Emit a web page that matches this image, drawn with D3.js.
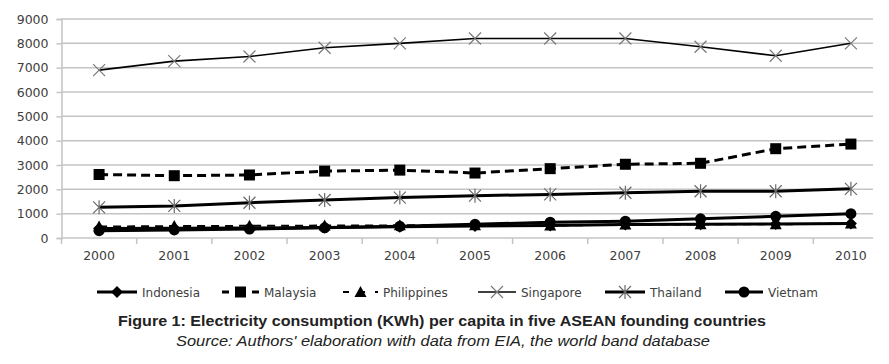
<!DOCTYPE html>
<html>
<head>
<meta charset="utf-8">
<script src="https://cdn.jsdelivr.net/npm/d3@7"></script>
<style>
  html, body { margin: 0; padding: 0; background: #fff; }
  svg { display: block; }
</style>
</head>
<body>
<svg id="chart" width="889" height="364"></svg>
<script>
const years = ["2000","2001","2002","2003","2004","2005","2006","2007","2008","2009","2010"];
const yTicks = [0,1000,2000,3000,4000,5000,6000,7000,8000,9000];
const indonesia   = [390, 400, 410, 430, 460, 490, 510, 550, 570, 580, 600];
const malaysia    = [2610, 2560, 2590, 2750, 2790, 2670, 2850, 3030, 3070, 3670, 3860];
const philippines = [470, 490, 500, 510, 520, 520, 510, 550, 560, 560, 600];
const singapore   = [6900, 7270, 7460, 7820, 8000, 8200, 8200, 8200, 7860, 7490, 8000];
const thailand    = [1260, 1320, 1450, 1560, 1660, 1740, 1790, 1860, 1920, 1920, 2020];
const vietnam     = [300, 330, 370, 420, 480, 560, 650, 690, 790, 890, 1000];
const seriesNames = ["Indonesia","Malaysia","Philippines","Singapore","Thailand","Vietnam"];
const title = "Figure 1: Electricity consumption (KWh) per capita in five ASEAN founding countries";
const source = "Source: Authors' elaboration with data from EIA, the world band database";

const seriesData = [indonesia, malaysia, philippines, singapore, thailand, vietnam];
const styles = [
  {w: 3,   dash: null,  marker: "diamond"},
  {w: 3,   dash: "9,5", marker: "square"},
  {w: 2,   dash: "8,6", marker: "triangle"},
  {w: 1.6, dash: null,  marker: "x"},
  {w: 3,   dash: null,  marker: "star"},
  {w: 3,   dash: null,  marker: "circle"}
];

const svg = d3.select("#chart");
const left = 61.5, right = 888.5, gridRight = 873;
const x = d3.scaleBand().domain(years).range([left, right]).padding(0);
const cx = d => x(d) + x.bandwidth() / 2;
const y = d3.scaleLinear().domain([0, 9000]).range([238, 19]);

// gridlines
svg.append("g").selectAll("line").data(yTicks).join("line")
  .attr("x1", left).attr("x2", gridRight)
  .attr("y1", d => y(d)).attr("y2", d => y(d))
  .attr("stroke", "#c4c4c4").attr("stroke-width", 1.5);

// y axis
const yAxis = svg.append("g").attr("transform", `translate(${left},0)`)
  .call(d3.axisLeft(y).tickValues(yTicks).tickSize(5).tickPadding(8).tickFormat(d3.format("d")));
yAxis.select(".domain").attr("stroke", "#c4c4c4").attr("stroke-width", 1.5);
yAxis.selectAll(".tick line").attr("stroke", "#c4c4c4").attr("stroke-width", 1.5);
yAxis.selectAll("text").attr("font-family", "'DejaVu Sans', sans-serif").attr("font-size", 12.5).attr("fill", "#404040");

// x axis ticks at band boundaries
const xg = svg.append("g");
xg.selectAll("line").data(years).join("line")
  .attr("x1", d => x(d)).attr("x2", d => x(d))
  .attr("y1", y(0)).attr("y2", y(0) + 6)
  .attr("stroke", "#c4c4c4").attr("stroke-width", 1.5);
xg.selectAll("text").data(years).join("text")
  .attr("x", d => cx(d)).attr("y", y(0) + 22)
  .attr("text-anchor", "middle")
  .attr("font-family", "'DejaVu Sans', sans-serif").attr("font-size", 12.5).attr("fill", "#404040")
  .text(d => d);

function drawMarker(g, type, px, py) {
  if (type === "diamond") {
    g.append("path").attr("d", `M${px},${py-6}L${px+6},${py}L${px},${py+6}L${px-6},${py}Z`).attr("fill", "#000");
  } else if (type === "square") {
    g.append("rect").attr("x", px-5.5).attr("y", py-5.5).attr("width", 11).attr("height", 11).attr("fill", "#000");
  } else if (type === "triangle") {
    g.append("path").attr("d", `M${px},${py-6}L${px+6},${py+5}L${px-6},${py+5}Z`).attr("fill", "#000");
  } else if (type === "x") {
    g.append("path").attr("d", `M${px-6},${py-6}L${px+6},${py+6}M${px+6},${py-6}L${px-6},${py+6}`)
      .attr("stroke", "#7a7a7a").attr("stroke-width", 1.2).attr("fill", "none");
  } else if (type === "star") {
    g.append("path").attr("d", `M${px-6},${py-6}L${px+6},${py+6}M${px+6},${py-6}L${px-6},${py+6}M${px},${py-7}L${px},${py+7}`)
      .attr("stroke", "#6a6a6a").attr("stroke-width", 1.2).attr("fill", "none");
  } else if (type === "circle") {
    g.append("circle").attr("cx", px).attr("cy", py).attr("r", 5.5).attr("fill", "#000");
  }
}

const line = d3.line().x((d, i) => cx(years[i])).y(d => y(d));
seriesData.forEach((vals, si) => {
  const st = styles[si];
  const g = svg.append("g");
  g.append("path").datum(vals).attr("d", line)
    .attr("fill", "none").attr("stroke", "#000").attr("stroke-width", st.w)
    .attr("stroke-dasharray", st.dash);
  vals.forEach((v, i) => drawMarker(g, st.marker, cx(years[i]), y(v)));
});

// legend
const legendX = [97, 222, 343, 478, 605, 725];
const legendLen = [40, 37, 35, 38, 40, 38];
const ly = 292;
seriesNames.forEach((name, si) => {
  const st = styles[si];
  const g = svg.append("g");
  const x0 = legendX[si], x1 = x0 + legendLen[si];
  g.append("line").attr("x1", x0).attr("x2", x1).attr("y1", ly).attr("y2", ly)
    .attr("stroke", "#000").attr("stroke-width", st.w)
    .attr("stroke-dasharray", si === 1 ? "7,6,11,6,7" : (si === 2 ? "6,10,6,10" : null));
  drawMarker(g, st.marker, (x0 + x1) / 2, ly);
  g.append("text").attr("x", x1 + 5).attr("y", ly + 4.5)
    .attr("font-family", "'DejaVu Sans', sans-serif").attr("font-size", 12).attr("fill", "#404040")
    .text(name);
});

// caption
svg.append("text").attr("x", 442).attr("y", 326).attr("text-anchor", "middle")
  .attr("font-family", "'Liberation Sans', Arial, sans-serif").attr("font-weight", "bold")
  .attr("font-size", 15.5).attr("fill", "#222")
  .attr("textLength", 648).attr("lengthAdjust", "spacingAndGlyphs").text(title);
svg.append("text").attr("x", 443).attr("y", 346).attr("text-anchor", "middle")
  .attr("font-family", "'Liberation Sans', Arial, sans-serif").attr("font-style", "italic")
  .attr("font-size", 15.5).attr("fill", "#222")
  .attr("textLength", 534).attr("lengthAdjust", "spacingAndGlyphs").text(source);
</script>
</body>
</html>
